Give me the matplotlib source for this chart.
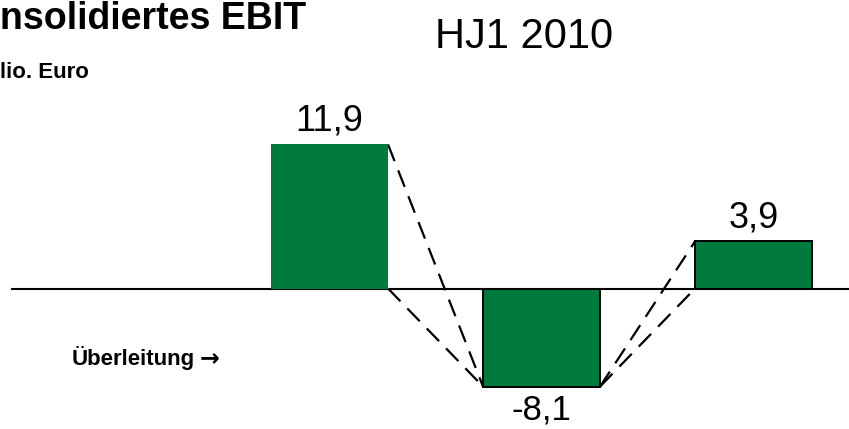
import matplotlib
matplotlib.use("Agg")
import matplotlib.pyplot as plt

plt.rcParams['font.family'] = ['Liberation Sans', 'DejaVu Sans']

# ---- data ----
values = [11.9, -8.1, 3.9]
value_labels = ["11,9", "-8,1", "3,9"]
title_text = "nsolidiertes EBIT"
unit_text = "lio. Euro"
period_text = "HJ1 2010"
bridge_text = "Überleitung"
arrow_text = "\u2192"

GREEN = "#007A3D"
W, H = 849, 429
fig = plt.figure(figsize=(W / 100, H / 100), dpi=100)
ax = fig.add_axes([0, 0, 1, 1])
ax.set_axis_off()

pos = list(range(len(values)))
bw = 0.552
ax.set_xlim(-1.554, 2.450)
ax.set_ylim(-11.61, 23.84)

# baseline
ax.axhline(0, xmin=12 / W, xmax=1, color="black", lw=1.5, zorder=1)

edges = ["none", "black", "black"]
for p, v, ec in zip(pos, values, edges):
    ax.bar(p, v, width=bw, color=GREEN, edgecolor=ec, linewidth=1.4 if ec != "none" else 0, zorder=3)

# dashed connectors
ls = (0, (8, 4.5))
kw = dict(color="black", lw=1.6, linestyle=ls, zorder=2)
r0 = pos[0] + bw / 2
l1 = pos[1] - bw / 2
ax.plot([r0, l1], [values[0], values[1]], **kw)
ax.plot([r0, l1], [0, values[1]], **kw)
r1 = pos[1] + bw / 2
l2 = pos[2] - bw / 2
ax.plot([r1, l2], [values[1], values[2]], **kw)
ax.plot([r1, l2], [values[1], 0], **kw)

# value labels
for p, v, t in zip(pos, values, value_labels):
    if v >= 0:
        ax.annotate(t, (p, v), xytext=(0, 10), textcoords="offset points",
                    ha="center", va="baseline", fontsize=26)
    else:
        ax.annotate(t, (p, v), xytext=(0, -5), textcoords="offset points",
                    ha="center", va="top", fontsize=25)

def fx(x):
    return x / W

def fy(y):
    return 1 - y / H

fig.text(fx(0), fy(29), title_text, fontsize=27, fontweight="bold", ha="left", va="baseline")
fig.text(fx(0), fy(78), unit_text, fontsize=16, fontweight="bold", ha="left", va="baseline")
fig.text(fx(524), fy(48), period_text, fontsize=30, ha="center", va="baseline")
fig.text(fx(195), fy(365), bridge_text, fontsize=16, fontweight="bold", ha="right", va="baseline")
fig.text(fx(219), fy(365), arrow_text, fontsize=17, fontweight="bold", ha="right", va="baseline",
         family=["DejaVu Sans"])

fig.savefig("out.png", dpi=100)
